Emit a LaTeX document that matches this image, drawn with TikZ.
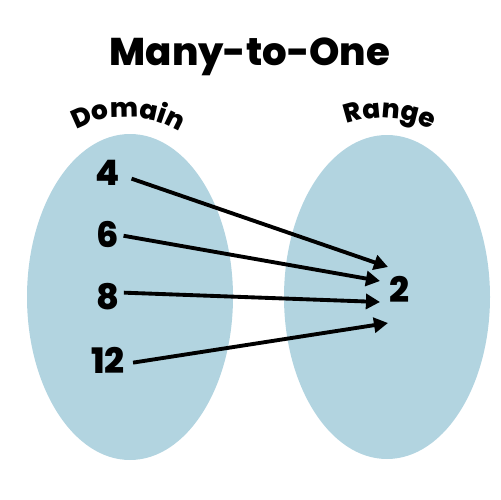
\documentclass[tikz,border=0pt]{standalone}
\usepackage{fontspec}
\setmainfont{Poppins}
\newfontfamily\heavy{Poppins}[UprightFont={* ExtraBold}]
\usetikzlibrary{arrows.meta,decorations.text}
\definecolor{ellblue}{RGB}{178,212,224}
\begin{document}
\begin{tikzpicture}[x=0.02cm,y=-0.02cm,
  setfill/.style={fill=ellblue},
  num/.style={font=\heavy\fontsize{20pt}{20pt}\selectfont, inner sep=0pt, anchor=base, text height=14pt, text depth=0pt},
  arr/.style={line width=2.2pt,-{Triangle[length=8pt,width=8.5pt]}},
  arclabel/.style={decorate, decoration={text along path, text align=center,
      text={|\heavy\fontsize{15pt}{15pt}\selectfont|#1}}}]
\useasboundingbox (0,0) rectangle (500,500);
\fill[setfill] (130,297) ellipse [x radius=103, y radius=163];
\fill[setfill] (387,297) ellipse [x radius=103, y radius=162];
\node[font=\heavy\fontsize{22pt}{22pt}\selectfont, anchor=base, inner sep=0pt] (title) at (250,66) {Many-to-One};
\path[arclabel=Domain] (70,134) .. controls (105,111) and (150,111) .. (186,136);
\path[arclabel=Range] (340,127) .. controls (370,113) and (405,115) .. (438,133);
\node[num] (n4) at (108,185) {4};
\node[num] (n6) at (108,247) {6};
\node[num] (n8) at (108,309) {8};
\node[num] (n12) at (108,373) {12};
\node[num] (n2) at (399,302) {2};
\coordinate (t1) at (388,267);
\coordinate (t2) at (380,281);
\coordinate (t3) at (380,302);
\coordinate (t4) at (388,323);
\draw[arr] ([xshift=6.3pt,yshift=-3.4pt]n4.east) -- (t1);
\draw[arr] ([xshift=2.3pt,yshift=-0.6pt]n6.east) -- (t2);
\draw[arr] ([xshift=2.3pt,yshift=2.3pt]n8.east) -- (t3);
\draw[arr] ([xshift=4.5pt,yshift=-1.1pt]n12.east) -- (t4);
\end{tikzpicture}
\end{document}
